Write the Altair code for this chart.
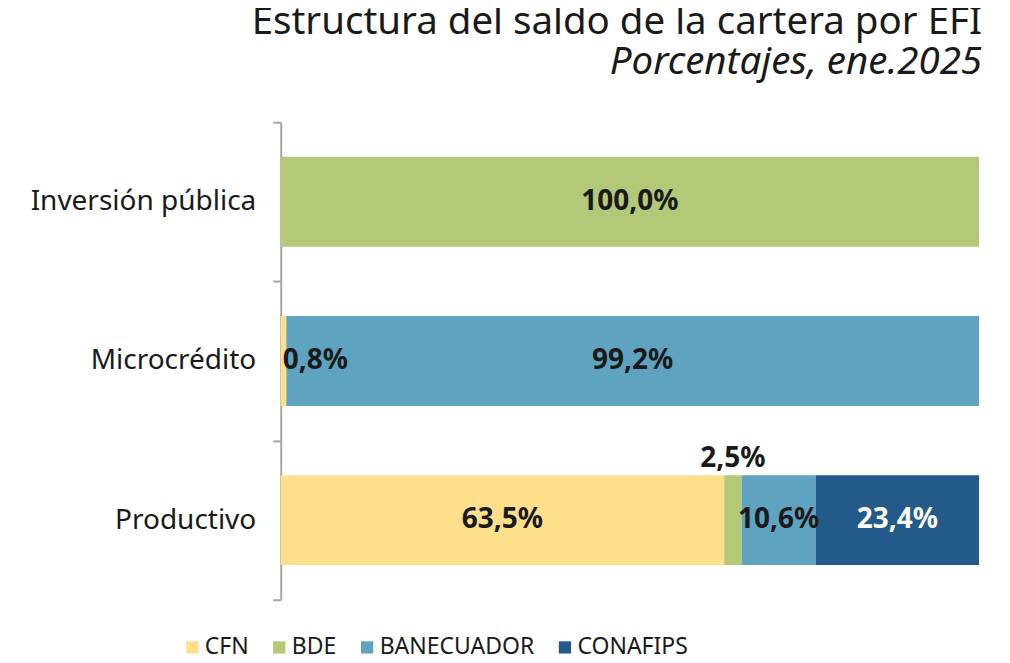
import altair as alt
import pandas as pd

categories = ["Inversión pública", "Microcrédito", "Productivo"]
entities = ["CFN", "BDE", "BANECUADOR", "CONAFIPS"]
colors = ["#FFDF8A", "#B3C978", "#5FA3C0", "#235A8A"]
cfn = [0.0, 0.8, 63.5]
bde = [100.0, 0.0, 2.5]
banecuador = [0.0, 99.2, 10.6]
conafips = [0.0, 0.0, 23.4]

series = [cfn, bde, banecuador, conafips]
rows = []
for ei, (ent, vals) in enumerate(zip(entities, series)):
    for cat, v in zip(categories, vals):
        if v > 0:
            rows.append({"cat": cat, "ent": ent, "idx": ei, "v": v})
df = pd.DataFrame(rows)

FONT = "Noto Sans"
TXT = "#1a1a1a"

base = alt.Chart(df)

y_enc = alt.Y(
    "cat:N",
    sort=categories,
    scale=alt.Scale(paddingInner=0, paddingOuter=0),
    axis=alt.Axis(
        title=None,
        tickBand="extent",
        domainColor="#A6A6A6",
        domainWidth=2,
        tickColor="#A6A6A6",
        tickWidth=2,
        tickSize=8,
        labelFontSize=28,
        labelFont=FONT,
        labelColor=TXT,
        labelPadding=17,
        labelLimit=0,
    ),
)

bars = base.mark_bar(height=alt.RelativeBandSize(0.565)).encode(
    x=alt.X("v:Q", stack="zero", scale=alt.Scale(domain=[0, 100]), axis=None),
    y=y_enc,
    color=alt.Color(
        "ent:N",
        scale=alt.Scale(domain=entities, range=colors),
        legend=alt.Legend(
            title=None,
            orient="none",
            legendX=-100,
            legendY=514,
            direction="horizontal",
            symbolType="square",
            symbolSize=150,
            symbolStrokeWidth=0,
            labelFontSize=23,
            labelFont=FONT,
            labelColor=TXT,
            labelOffset=1,
            labelLimit=0,
            columnPadding=19,
        ),
    ),
    order=alt.Order("idx:Q"),
)

lab = base.transform_stack(
    stack="v", groupby=["cat"], as_=["x0", "x1"], sort=[alt.SortField("idx")]
).transform_calculate(
    mid="(datum.x0 + datum.x1) / 2",
    label="replace(format(datum.v, '.1f'), '.', ',') + '%'",
)

text_kw = dict(fontSize=28, fontWeight="bold", font=FONT, baseline="middle")

main_lab = lab.transform_filter("datum.v >= 5").mark_text(**text_kw).encode(
    x=alt.X("mid:Q", scale=alt.Scale(domain=[0, 100]), axis=None),
    y=alt.Y("cat:N", sort=categories),
    text="label:N",
    color=alt.condition("datum.ent == 'CONAFIPS'", alt.value("white"), alt.value(TXT)),
)

left_lab = lab.transform_filter("datum.v < 1").mark_text(align="left", dx=2, color=TXT, **text_kw).encode(
    x=alt.X("x0:Q", scale=alt.Scale(domain=[0, 100]), axis=None),
    y=alt.Y("cat:N", sort=categories),
    text="label:N",
)

above_lab = lab.transform_filter("datum.v >= 1 && datum.v < 5").mark_text(dy=-61, color=TXT, **text_kw).encode(
    x=alt.X("mid:Q", scale=alt.Scale(domain=[0, 100]), axis=None),
    y=alt.Y("cat:N", sort=categories),
    text="label:N",
)

chart = (
    alt.layer(bars, main_lab, left_lab, above_lab)
    .properties(
        width=699,
        height=478,
        padding={"left": 22, "top": -5, "right": 20, "bottom": 0},
        title=alt.TitleParams(
            text="Estructura del saldo de la cartera por EFI",
            subtitle="Porcentajes, ene.2025",
            anchor="end",
            dx=3,
            font=FONT,
            fontSize=38.5,
            fontWeight="normal",
            color=TXT,
            subtitleFont=FONT,
            subtitleFontSize=38.5,
            subtitleFontStyle="italic",
            subtitleColor=TXT,
            subtitlePadding=1,
            offset=26,
        ),
    )
    .configure_view(stroke=None)
)

chart.save("out.html", embed_options={"renderer": "svg", "actions": False})
